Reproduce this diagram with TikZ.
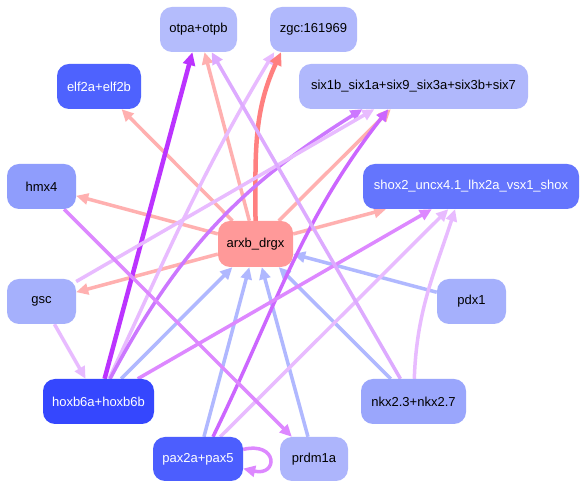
\documentclass[tikz,border=0pt]{standalone}
\usepackage{fontspec}
\setmainfont{Liberation Sans}
\usetikzlibrary{arrows.meta}
\pgfdeclarelayer{back}
\pgfdeclarelayer{bg}
\pgfsetlayers{back,bg,main}
\definecolor{cOtpa}{RGB}{180,188,252}
\definecolor{cZgc}{RGB}{176,184,252}
\definecolor{cElf}{RGB}{78,98,254}
\definecolor{cSix}{RGB}{176,184,252}
\definecolor{cHmx}{RGB}{143,157,252}
\definecolor{cShox}{RGB}{100,117,253}
\definecolor{cArxb}{RGB}{255,153,153}
\definecolor{cGsc}{RGB}{165,176,252}
\definecolor{cPdx}{RGB}{165,176,252}
\definecolor{cHoxb}{RGB}{53,71,254}
\definecolor{cNkx}{RGB}{154,166,252}
\definecolor{cPax}{RGB}{76,94,254}
\definecolor{cPrdm}{RGB}{173,181,252}
\definecolor{eSalmon}{RGB}{255,176,176}
\definecolor{eRed}{RGB}{255,128,128}
\definecolor{eBlue}{RGB}{176,184,255}
\definecolor{eDarkPurple}{RGB}{187,51,255}
\definecolor{ePurpleA}{RGB}{204,119,255}
\definecolor{ePurpleB}{RGB}{204,102,255}
\definecolor{ePurpleC}{RGB}{221,136,255}
\definecolor{eLav}{RGB}{221,170,255}
\definecolor{eLightLav}{RGB}{232,187,255}
\begin{document}
\begin{tikzpicture}[x=1pt,y=1pt,
  box/.style={rounded corners=12pt, minimum height=45pt, inner sep=0pt,
    font=\fontsize{13}{15}\selectfont, text=black},
  wbox/.style={box, text=white},
  e/.style={line width=3.5pt, -{Triangle[length=12pt,width=11pt]}},
  ethick/.style={line width=4.5pt, -{Triangle[length=13pt,width=12pt]}}]
\useasboundingbox (0,0) rectangle (586,489);
\begin{pgfonlayer}{back}
\fill[white] (0,0) rectangle (586,489);
\end{pgfonlayer}

\node[box, fill=cOtpa, minimum width=77pt] (otpa) at (198.5,459.5) {otpa+otpb};
\node[box, fill=cZgc, minimum width=87pt] (zgc) at (313.5,459.5) {zgc:161969};
\node[wbox, fill=cElf, minimum width=84pt] (elf) at (99,402.5) {elf2a+elf2b};
\node[box, fill=cSix, minimum width=229pt] (six) at (413.5,402.5) {six1b\_six1a+six9\_six3a+six3b+six7};
\node[box, fill=cHmx, minimum width=69pt] (hmx) at (41.5,302.5) {hmx4};
\node[wbox, fill=cShox, minimum width=216pt] (shox) at (471,302.5) {shox2\_uncx4.1\_lhx2a\_vsx1\_shox};
\node[box, fill=cArxb, minimum width=75pt, minimum height=46pt] (arxb) at (255.5,245) {arxb\_drgx};
\node[box, fill=cGsc, minimum width=69pt] (gsc) at (41.5,187.5) {gsc};
\node[box, fill=cPdx, minimum width=69pt] (pdx) at (471.5,187.5) {pdx1};
\node[wbox, fill=cHoxb, minimum width=111pt] (hoxb) at (98.5,87.5) {hoxb6a+hoxb6b};
\node[box, fill=cNkx, minimum width=105pt] (nkx) at (413.5,87.5) {nkx2.3+nkx2.7};
\node[wbox, fill=cPax, minimum width=90pt, minimum height=44pt] (pax) at (198,30) {pax2a+pax5};
\node[box, fill=cPrdm, minimum width=68pt, minimum height=44pt] (prdm) at (314,30) {prdm1a};

\begin{pgfonlayer}{bg}
% out of arxb
\draw[e, eSalmon] (arxb) -- (otpa);
\draw[e, eSalmon] (arxb) -- (elf);
\draw[e, eSalmon] (arxb) -- (hmx);
\draw[e, eSalmon] (arxb) -- (gsc);
\draw[e, eSalmon] (arxb) -- (six);
\draw[e, eSalmon] (arxb) -- (shox);
% into arxb
\draw[e, eBlue] (pdx) -- (arxb);
\draw[e, eBlue] (nkx) -- (arxb);
\draw[e, eBlue] (prdm) -- (arxb);
\draw[e, eBlue] (pax) -- (arxb);
\draw[e, eBlue] (hoxb) -- (arxb);
% others
\draw[e, eLightLav] (hoxb.65) to[out=65,in=-121] (zgc.-150);
\draw[ethick, eRed] (arxb.north) to[out=90,in=-115] (zgc.-145);
\draw[ethick, eDarkPurple] (hoxb) -- (otpa);
\draw[e, ePurpleA] (hoxb.63) to[out=62,in=-148] (six.-156);
\draw[e, eLightLav] (gsc) -- (six);
\draw[e, ePurpleB] (pax.56) to[out=64,in=-128] (six.-138);
\draw[e, ePurpleC] (hoxb) -- (shox);
\draw[e, eLightLav] (pax) -- (shox);
\draw[e, eLightLav] (nkx.88) to[out=88,in=-108] (shox.-125);
\draw[e, eLav] (nkx) -- (otpa);
\draw[e, ePurpleC] (hmx) -- (prdm);
\draw[e, eLightLav] (gsc) -- (hoxb);
\draw[e, ePurpleC] (pax.12) .. controls +(35,8) and +(35,-8) .. (pax.-12);
\end{pgfonlayer}
\end{tikzpicture}
\end{document}
